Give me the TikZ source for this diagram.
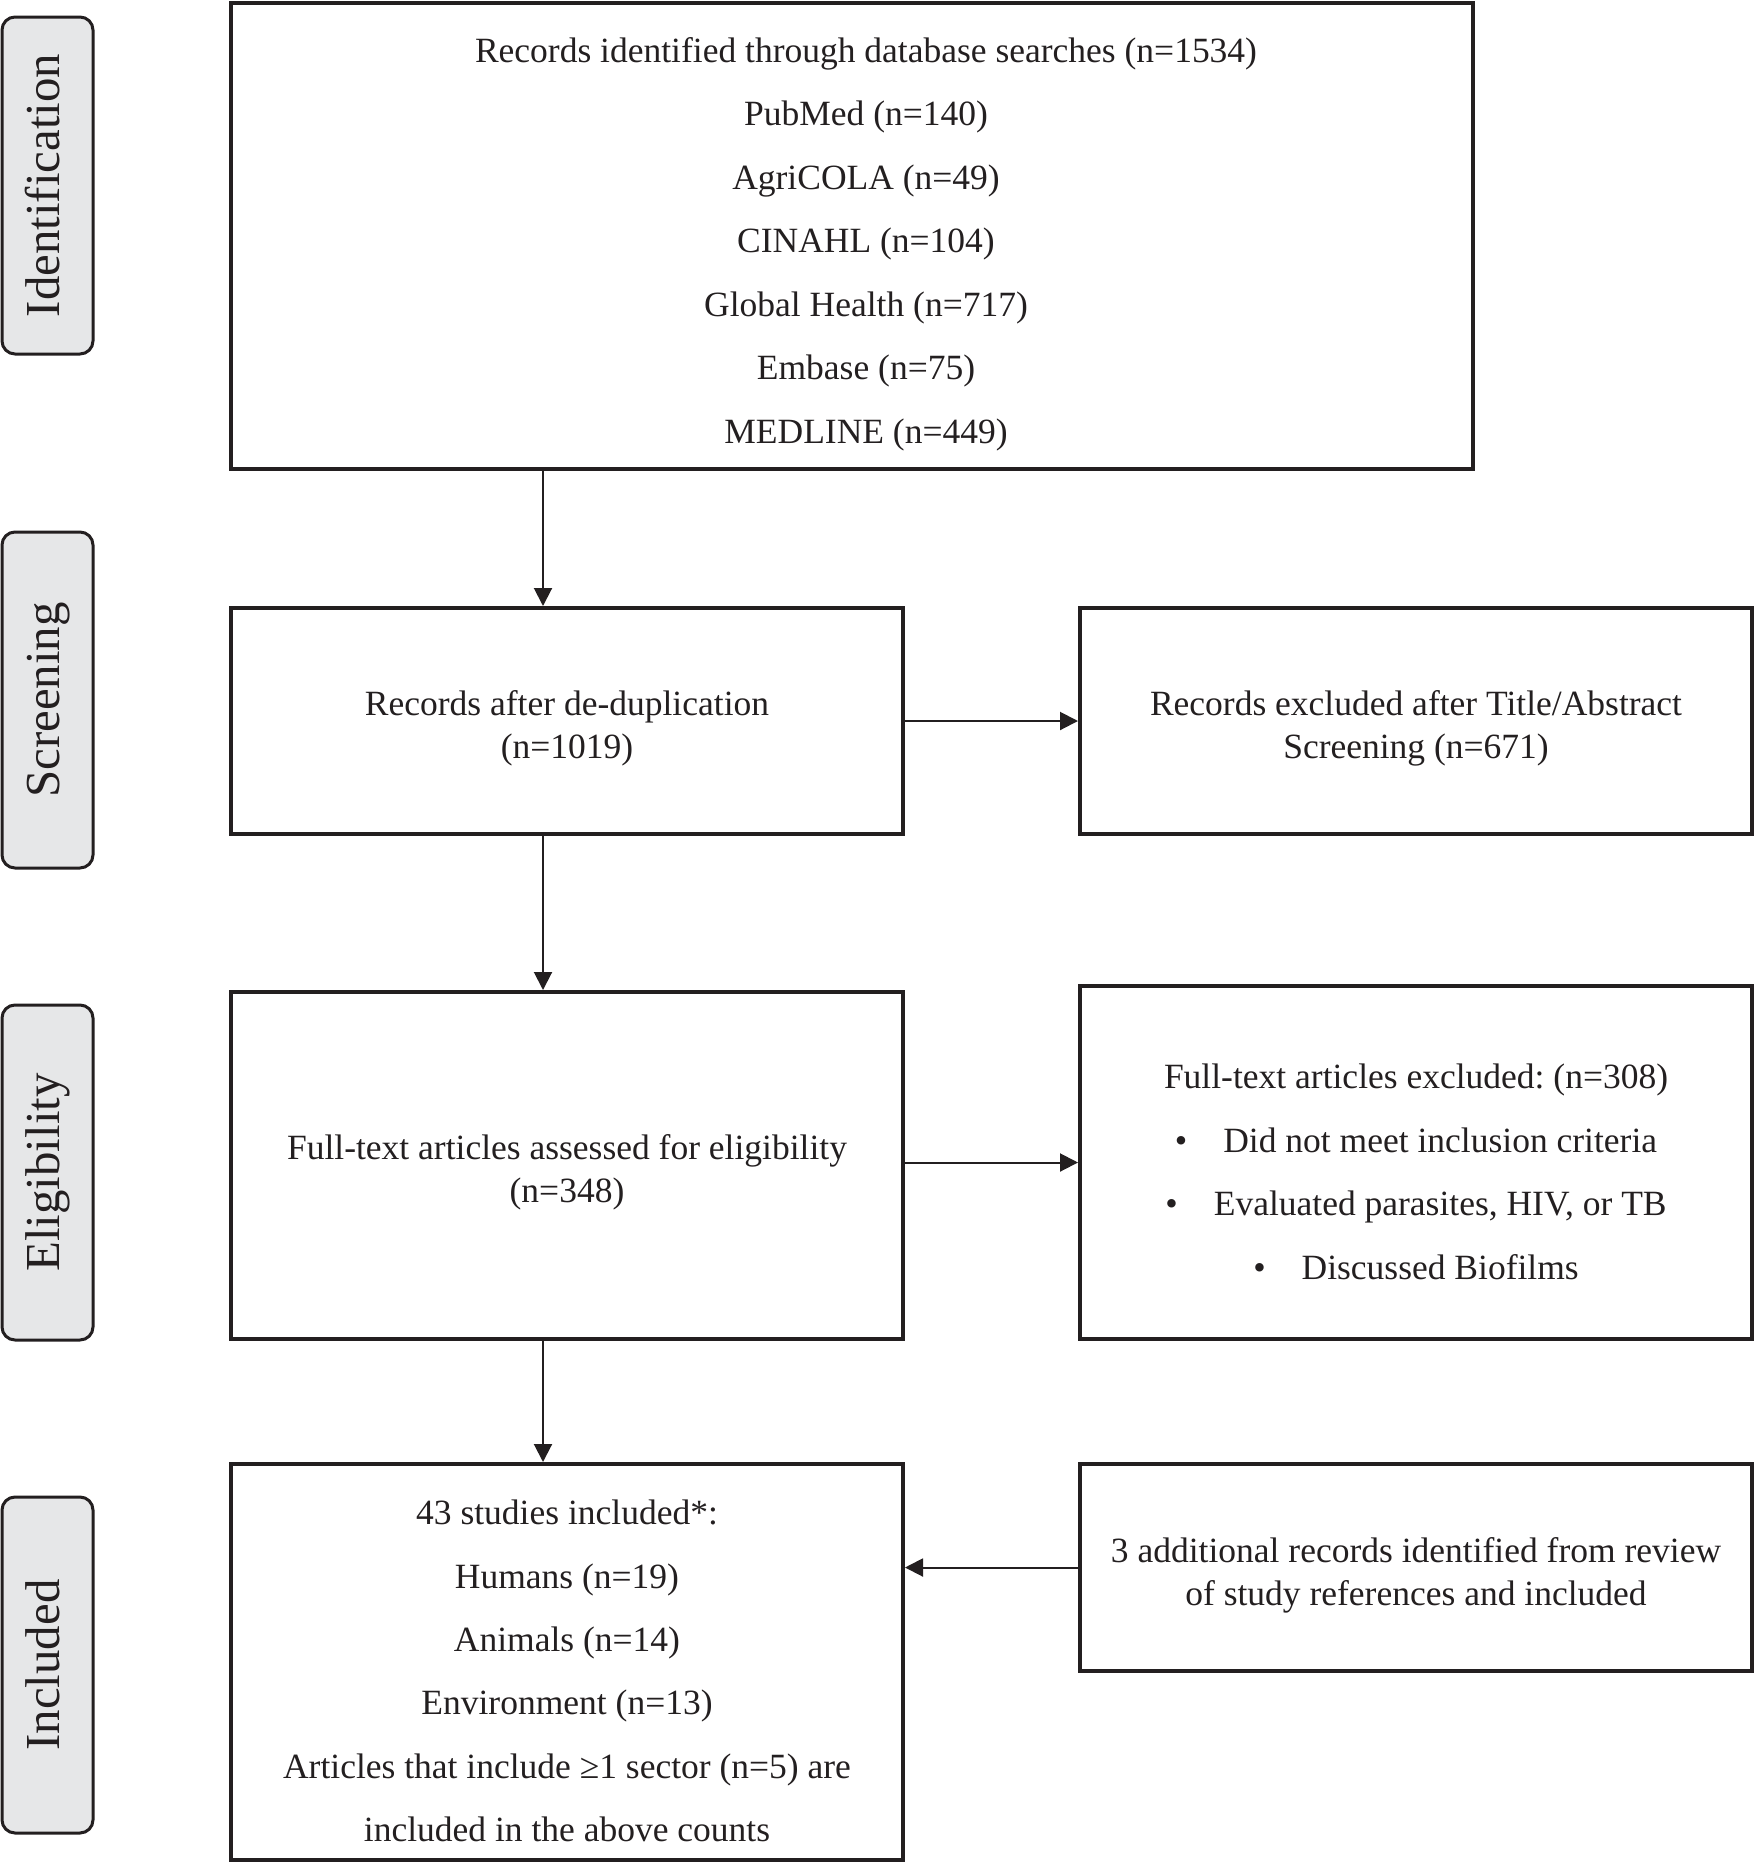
\documentclass[tikz,border=0pt]{standalone}
\usepackage{fontspec}
\setmainfont{Liberation Serif}
\usetikzlibrary{arrows.meta}
\definecolor{ink}{HTML}{231F20}
\definecolor{tabfill}{HTML}{E6E7E8}
\frenchspacing
\begin{document}
\begin{tikzpicture}[x=0.1mm,y=-0.1mm,
  box/.style={draw=ink, line width=0.4mm, inner sep=0pt},
  tab/.style={draw=ink, line width=0.3mm, fill=tabfill, rounded corners=1.3mm,
    rotate=90, inner sep=0pt, minimum height=9.1mm, text=ink,
    font=\fontsize{13.9}{16}\selectfont, text height=0.7em, text depth=0pt},
  arr/.style={draw=ink, line width=0.2mm, -{Triangle[length=1.8mm,width=1.8mm]}},
  wide/.style={text=ink, align=center, inner sep=0pt, font=\fontsize{10.1}{18.05}\selectfont},
  tight/.style={text=ink, align=center, inner sep=0pt, font=\fontsize{10.1}{12.2}\selectfont},
]
\useasboundingbox (0,0) rectangle (1755,1863);

% stage tabs
\node[tab, minimum width=33.7mm] (tabid) at (47.5,185.5) {Identification};
\node[tab, minimum width=33.6mm] (tabsc) at (47.5,700) {Screening};
\node[tab, minimum width=33.5mm] (tabel) at (47.5,1172.5) {Eligibility};
\node[tab, minimum width=33.6mm] (tabin) at (47.5,1665) {Included};

% boxes
\node[box, minimum width=124.2mm, minimum height=46.6mm] (ident) at (852,236) {};
\node[box, minimum width=67.2mm, minimum height=22.6mm] (dedup) at (567,721) {};
\node[box, minimum width=67.2mm, minimum height=22.6mm] (excl1) at (1416,721) {};
\node[box, minimum width=67.2mm, minimum height=34.7mm] (full) at (567,1165.5) {};
\node[box, minimum width=67.2mm, minimum height=35.3mm] (excl2) at (1416,1162.5) {};
\node[box, minimum width=67.2mm, minimum height=39.6mm] (incl) at (567,1662) {};
\node[box, minimum width=67.2mm, minimum height=20.7mm] (addl) at (1416,1567.5) {};

% texts
\node[wide] (identtxt) at (866,244) {Records identified through database searches (n=1534)\\
  PubMed (n=140)\\ AgriCOLA (n=49)\\ CINAHL (n=104)\\ Global Health (n=717)\\
  Embase (n=75)\\ MEDLINE (n=449)};
\node[tight] (deduptxt) at (567,728.5) {Records after de-duplication\\(n=1019)};
\node[tight] (excl1txt) at (1416,728.5) {Records excluded after Title/Abstract\\Screening (n=671)};
\node[tight] (fulltxt) at (567,1172.5) {Full-text articles assessed for eligibility\\(n=348)};
\node[wide] (excl2txt) at (1416,1172) {Full-text articles excluded: (n=308)\\
  \textbullet\hspace{3.6mm}Did not meet inclusion criteria\\
  \textbullet\hspace{3.6mm}Evaluated parasites, HIV, or TB\\
  \textbullet\hspace{3.6mm}Discussed Biofilms};
\node[wide] (incltxt) at (567,1671) {43 studies included*:\\ Humans (n=19)\\ Animals (n=14)\\
  Environment (n=13)\\ Articles that include ≥1 sector (n=5) are\\ included in the above counts};
\node[tight] (addltxt) at (1416,1575.5) {3 additional records identified from review\\of study references and included};

% connectors
\coordinate (ax) at (543,0);
\draw[arr] (ax |- ident.south) -- (ax |- dedup.north);
\draw[arr] (ax |- dedup.south) -- (ax |- full.north);
\draw[arr] (ax |- full.south) -- (ax |- incl.north);
\draw[arr] (dedup.east) -- (excl1.west);
\draw[arr] (excl2.west -| full.east) -- (excl2.west);
\draw[arr] (addl.west) -- (addl.west -| incl.east);
\end{tikzpicture}
\end{document}
